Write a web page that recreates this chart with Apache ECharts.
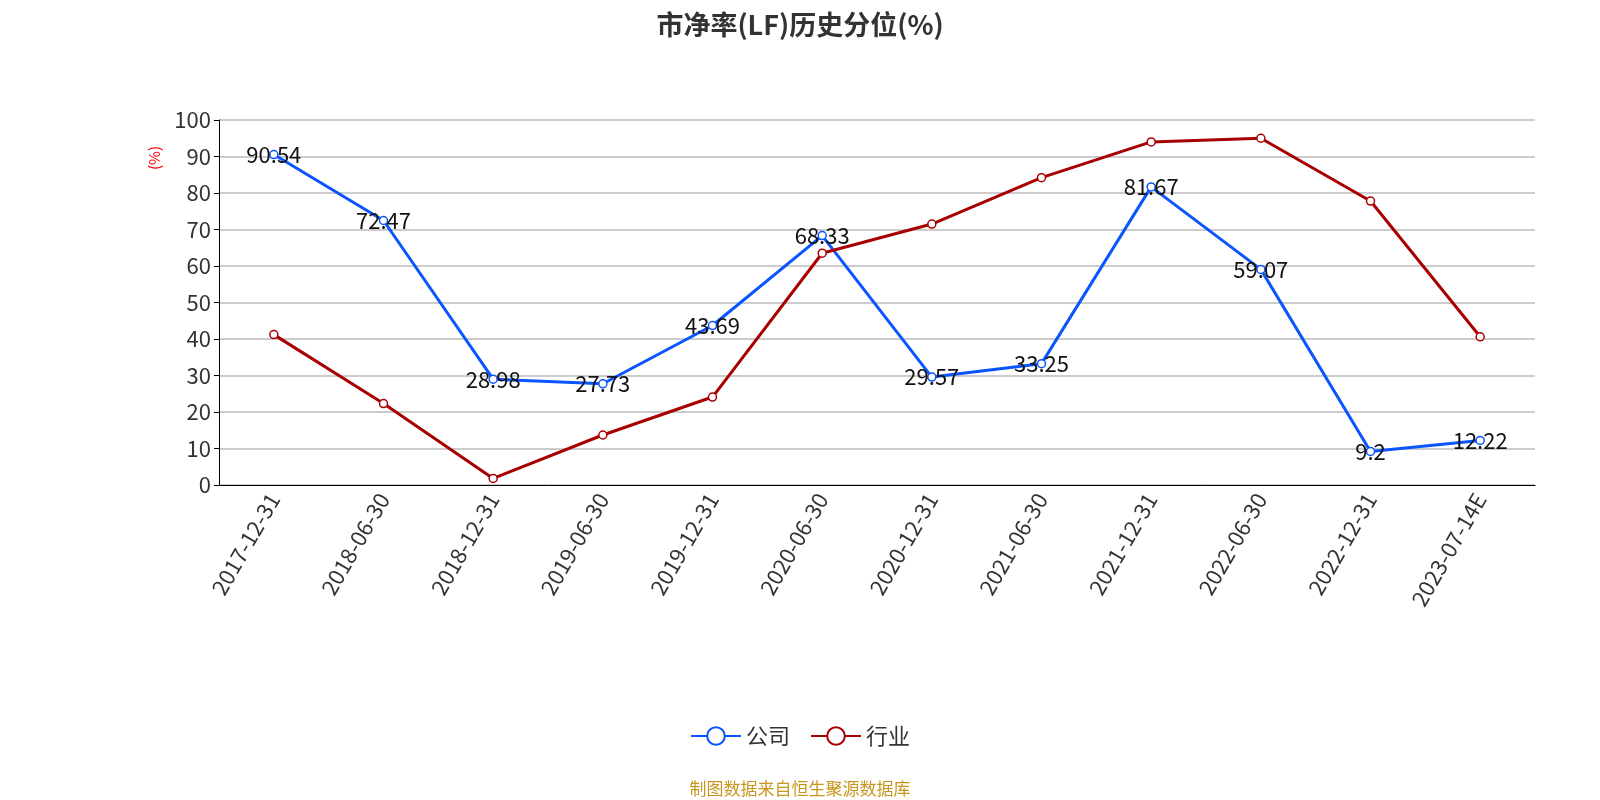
<!DOCTYPE html>
<html><head><meta charset="utf-8">
<script src="https://cdn.jsdelivr.net/npm/echarts@6/dist/echarts.min.js"></script>
<style>html,body{margin:0;padding:0;background:#fff}#c{width:1600px;height:800px}</style>
</head><body><div id="c"></div>
<script>
const categories=['2017-12-31','2018-06-30','2018-12-31','2019-06-30','2019-12-31','2020-06-30','2020-12-31','2021-06-30','2021-12-31','2022-06-30','2022-12-31','2023-07-14E'];
const company=[90.54,72.47,28.98,27.73,43.69,68.33,29.57,33.25,81.67,59.07,9.2,12.22];
const industry=[41.2,22.3,1.8,13.7,24.1,63.5,71.5,84.2,94.0,95.0,77.8,40.6];
const chart=echarts.init(document.getElementById('c'));
const font='"Noto Sans CJK SC","Noto Sans",sans-serif';
chart.setOption({
 animation:false,
 textStyle:{fontFamily:font},
 title:{text:'市净率(LF)历史分位(%)',left:'center',top:6,textStyle:{fontSize:27,fontWeight:'bold',color:'#333',fontFamily:font}},
 grid:{left:219,right:65,top:120,bottom:315},
 legend:{bottom:48,itemWidth:50,itemHeight:22,itemGap:20,textStyle:{fontSize:22,color:'#333'},
  data:[{name:'公司',itemStyle:{color:'#fff',borderColor:'#0a55ff',borderWidth:2}},{name:'行业',itemStyle:{color:'#fff',borderColor:'#a80000',borderWidth:2}}]},
 graphic:[
  {type:'text',left:'center',bottom:3,style:{text:'制图数据来自恒生聚源数据库',fill:'#c8961e',fontSize:17,fontFamily:font}},
  {type:'text',x:147,y:170,rotation:Math.PI/2,style:{text:'(%)',fill:'red',fontSize:15,fontFamily:font}}
 ],
 xAxis:{type:'category',data:categories,axisLine:{lineStyle:{color:'#000'}},axisTick:{lineStyle:{color:'#000'},length:6},
  axisLabel:{rotate:60,fontSize:22,color:'#333',interval:0,margin:10}},
 yAxis:{type:'value',min:0,max:100,interval:10,
  axisLine:{show:true,lineStyle:{color:'#000'}},axisTick:{show:true,lineStyle:{color:'#000'}},
  axisLabel:{fontSize:22,color:'#333'},splitLine:{lineStyle:{color:'#bbb',width:1.5}}},
 series:[
  {name:'公司',type:'line',data:company,symbol:'circle',symbolSize:8,itemStyle:{color:'#fff',borderColor:'#0a55ff',borderWidth:1.5},
   lineStyle:{width:3,color:'#0a55ff'},label:{show:true,position:'inside',fontSize:22,color:'#111'},
   emphasis:{disabled:true}},
  {name:'行业',type:'line',data:industry,symbol:'circle',symbolSize:8,itemStyle:{color:'#fff',borderColor:'#a80000',borderWidth:1.5},
   lineStyle:{width:3,color:'#a80000'},emphasis:{disabled:true}}
 ]
});
</script></body></html>
